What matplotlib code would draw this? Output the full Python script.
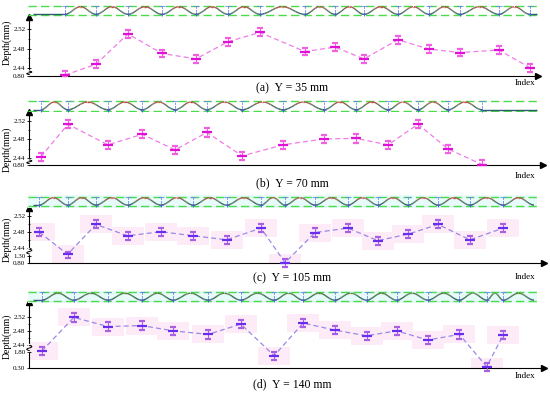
import numpy as np
import matplotlib
matplotlib.use("Agg")
import matplotlib.pyplot as plt
from matplotlib.collections import LineCollection
from matplotlib.colors import LinearSegmentedColormap
from matplotlib.ticker import FixedLocator, FuncFormatter
from matplotlib.transforms import blended_transform_factory

plt.rcParams['font.family'] = ['Liberation Serif', 'DejaVu Serif']

W, H = 550, 394

# ---------------- data ----------------
CAPTIONS = ["(a)  Y = 35 mm", "(b)  Y = 70 mm", "(c)  Y = 105 mm", "(d)  Y = 140 mm"]

# x = measuring index (position along the scan), y = depth in mm, err = error bar
IDX_A = [1.08, 2.02, 2.99, 4.02, 5.05, 6.02, 6.99, 8.35, 9.26, 10.14, 11.17, 12.11, 13.05, 14.23, 15.17]
DEPTH_A = [2.426, 2.448, 2.510, 2.470, 2.459, 2.494, 2.513, 2.474, 2.483, 2.459, 2.498, 2.479, 2.472, 2.477, 2.441]
ERR_A = [0.008, 0.008, 0.008, 0.008, 0.008, 0.008, 0.008, 0.008, 0.008, 0.008, 0.008, 0.008, 0.008, 0.008, 0.008]

IDX_B = [0.35, 1.17, 2.38, 3.42, 4.42, 5.38, 6.45, 7.69, 8.93, 9.90, 10.87, 11.78, 12.69, 13.72]
DEPTH_B = [2.442, 2.513, 2.468, 2.491, 2.457, 2.495, 2.444, 2.468, 2.481, 2.482, 2.468, 2.513, 2.459, 2.425]
ERR_B = [0.009, 0.009, 0.009, 0.009, 0.009, 0.009, 0.009, 0.009, 0.009, 0.009, 0.009, 0.009, 0.009, 0.009]

IDX_C = [0.30, 1.16, 2.02, 2.98, 3.99, 4.97, 5.98, 7.02, 7.75, 8.66, 9.65, 10.56, 11.48, 12.39, 13.35, 14.36]
DEPTH_C = [2.480, 1.55, 2.499, 2.471, 2.481, 2.471, 2.461, 2.490, 0.80, 2.479, 2.490, 2.459, 2.475, 2.499, 2.461, 2.490]
ERR_C = [0.010, 0.40, 0.010, 0.010, 0.010, 0.010, 0.010, 0.010, 0.30, 0.010, 0.010, 0.010, 0.010, 0.010, 0.010, 0.010]

IDX_D = [0.38, 1.35, 2.39, 3.41, 4.36, 5.42, 6.41, 7.42, 8.30, 9.26, 10.22, 11.13, 12.08, 13.03, 13.86, 14.36]
DEPTH_D = [1.86, 2.518, 2.492, 2.495, 2.480, 2.470, 2.499, 1.43, 2.502, 2.482, 2.466, 2.480, 2.454, 2.470, 0.40, 2.468]
ERR_D = [0.35, 0.012, 0.012, 0.012, 0.012, 0.012, 0.012, 0.37, 0.012, 0.012, 0.012, 0.012, 0.012, 0.012, 0.37, 0.012]

# broken y axis: (depth values, compressed axis positions) below 2.44
BREAK_A = ([0.80, 2.4242], [2.4241, 2.4242])
BREAK_B = ([0.80, 2.4235], [2.4234, 2.4235])
BREAK_C = ([0.80, 1.30, 2.44], [2.4043, 2.4209, 2.44])
BREAK_D = ([0.30, 1.80, 2.44], [2.3758, 2.4211, 2.44])
LOW_TICKS = [[0.80], [0.80], [0.80, 1.30], [0.30, 1.80]]
MAJOR_TICKS = [2.44, 2.48, 2.52]
MINOR_TICKS = [2.46, 2.50]
Y_TOP = [2.5444, 2.5403, 2.539, 2.5607]
# where the little break squiggle sits on the y axis (depth values)
BREAK_MARK = [(2.427, 2.434), (2.427, 2.435), (1.60, 2.32), (1.90, 2.40)]

# ---------------- layout (pixels of the 550x394 picture) ----------------
MAIN_BOX = [(29.3, 17, 538, 76), (29.3, 111.7, 543, 165.3),
            (29.3, 208.3, 544, 262.7), (29.3, 302.3, 544, 367.7)]
STRIP_LINES = [(5.7, 15.3), (101, 110.7), (196.7, 206), (292.3, 301)]
STRIP_X = [(28, 540), (28, 540), (28, 537), (28, 537)]
CAPTION_Y = [88, 183.3, 278.3, 384.3]
INDEX_Y = [83, 176, 277.3, 375.7]
YLABEL_Y = [42.5, 149, 239, 336]
PX_PER_IDX = 33.0


def px_box(left, top, right, bottom):
    return [left / W, 1 - bottom / H, (right - left) / W, (bottom - top) / H]


def break_funcs(vals, pos):
    slope = (pos[1] - pos[0]) / (vals[1] - vals[0])
    xv = [vals[0] - 50] + list(vals) + [vals[-1] + 50]
    xp = [pos[0] - 50 * slope] + list(pos) + [pos[-1] + 50]
    return (lambda v: np.interp(v, xv, xp)), (lambda p: np.interp(p, xp, xv))


def wave(troughs, start, end, tail_crest, low=0.1, high=0.9):
    xs, ys = [start], [low]
    pts = list(troughs)
    if tail_crest:
        pts = pts + [end]
    t = np.linspace(0, 1, 30)
    for a, b in zip(pts[:-1], pts[1:]):
        xs += list(a + (b - a) * t)
        ys += list(low + (high - low) * (1 - np.cos(2 * np.pi * t)) / 2)
    if not tail_crest:
        xs += [end]
        ys += [low]
    return np.array(xs), np.array(ys)


panels = [
    (IDX_A, DEPTH_A, ERR_A, BREAK_A),
    (IDX_B, DEPTH_B, ERR_B, BREAK_B),
    (IDX_C, DEPTH_C, ERR_C, BREAK_C),
    (IDX_D, DEPTH_D, ERR_D, BREAK_D),
]

wave_cmaps = [
    LinearSegmentedColormap.from_list("w1", ["#2d5d66", "#4d6e5a", "#b4473c"]),
    LinearSegmentedColormap.from_list("w2", ["#2d5d66", "#4d6e5a", "#b4473c"]),
    LinearSegmentedColormap.from_list("w3", ["#2d5d66", "#4d6e5a", "#b4473c"]),
    LinearSegmentedColormap.from_list("w4", ["#2e5a6a", "#3c6b48", "#4e7a3c"]),
]

fig = plt.figure(figsize=(5.5, 3.94), dpi=100)

for i, (xi, yi, ei, brk) in enumerate(panels):
    left, top, right, bottom = MAIN_BOX[i]
    ax = fig.add_axes(px_box(left, top, right, bottom))
    fwd, inv = break_funcs(*brk)
    ax.set_yscale('function', functions=(fwd, inv))
    ax.set_xlim(0, (right - left) / PX_PER_IDX)
    ax.set_ylim(LOW_TICKS[i][0], Y_TOP[i])

    if i < 2:
        mcol, ecol, lcol = "#e010d8", "#f060e0", "#f07ce6"
    else:
        mcol, ecol, lcol = "#6a2cf0", "#a860e0", "#9a88e6"
        # light pink boxes behind each measurement
        box = [(-1, -0.55), (1, -0.55), (1, 0.55), (-1, 0.55)]
        ax.scatter(xi, yi, marker=box, s=560, color="#fdecf7", lw=0, zorder=1)

    ax.plot(xi, yi, ls=(0, (4, 2.5)), color=lcol, lw=0.9, zorder=2)
    ax.errorbar(xi, yi, yerr=ei, fmt='_', color=mcol, ecolor=ecol, ms=7, mew=1.6,
                elinewidth=0.8, capsize=2.5, capthick=0.8, zorder=3, clip_on=False)

    for s in ['top', 'right']:
        ax.spines[s].set_visible(False)
    for s in ['left', 'bottom']:
        ax.spines[s].set_linewidth(0.8)
    ax.set_xticks([])
    ax.yaxis.set_major_locator(FixedLocator(LOW_TICKS[i] + MAJOR_TICKS))
    ax.yaxis.set_minor_locator(FixedLocator(MINOR_TICKS))
    ax.yaxis.set_major_formatter(FuncFormatter(lambda v, p: "%.2f" % v))
    ax.tick_params(axis='y', which='major', direction='inout', length=3.5, width=0.6,
                   labelsize=5, pad=1)
    ax.tick_params(axis='y', which='minor', direction='inout', length=2, width=0.5)
    ax.set_facecolor('none')

    # arrows on the axes
    ax.plot([1], [0], marker='>', color='k', ms=4, transform=ax.transAxes, clip_on=False)
    ax.plot([0], [1], marker='^', color='k', ms=4, transform=ax.transAxes, clip_on=False)

    # axis break squiggle
    tr = blended_transform_factory(ax.transAxes, ax.transData)
    b0, b1 = BREAK_MARK[i]
    ax.plot([0, 0], [b0, b1], color='white', lw=1.6, transform=tr, clip_on=False, zorder=4)
    t = np.linspace(0, 1, 30)
    ax.plot(-0.005 * np.sin(2 * np.pi * t), b0 + (b1 - b0) * t, color='k', lw=0.7,
            transform=tr, clip_on=False, zorder=5)

    # wave profile strip on top
    g_top, g_bot = STRIP_LINES[i]
    sx0, sx1 = STRIP_X[i]
    pad = 1.5
    sax = fig.add_axes(px_box(sx0, g_top - pad, sx1, g_bot + pad))
    span = (g_bot - g_top)
    yl = pad / span
    sax.set_ylim(-yl, 1 + yl)
    sax.set_xlim((sx0 - left) / PX_PER_IDX, (sx1 - left) / PX_PER_IDX)
    sax.axis('off')
    if i >= 2:
        sax.add_patch(plt.Rectangle((0, 0), 1, 1, transform=sax.transAxes,
                                    color="#e8fbfb", lw=0, zorder=0))
    for gy in (0, 1):
        sax.axhline(gy, color="#4bdc4b", lw=1.0, ls=(0, (6, 3)), zorder=1)
    wx, wy = wave(xi, 0.1, (sx1 - 3 - left) / PX_PER_IDX, i >= 2)
    segs = np.stack([np.column_stack([wx[:-1], wy[:-1]]),
                     np.column_stack([wx[1:], wy[1:]])], axis=1)
    lc = LineCollection(segs, cmap=wave_cmaps[i], lw=1.0, zorder=2)
    lc.set_array((wy[:-1] + wy[1:]) / 2)
    lc.set_clim(0.1, 0.9)
    sax.add_collection(lc)
    sax.vlines(xi, 0, 1, colors="#6a84e4", lw=0.6, linestyles=(0, (2.5, 1.5)), zorder=3)
    sax.plot(xi, [1] * len(xi), '_', color="#6a84e4", ms=4, mew=0.6, zorder=3)
    sax.plot(xi, [0.1] * len(xi), '+', color="#4a5ed0", ms=3, mew=0.6, zorder=3)

    # texts
    fig.text(292 / W, 1 - CAPTION_Y[i] / H, CAPTIONS[i], ha='center', va='center', fontsize=8.5)
    fig.text(535 / W, 1 - INDEX_Y[i] / H, "Index", ha='right', va='center', fontsize=6.5)
    fig.text(7 / W, 1 - YLABEL_Y[i] / H, "Depth(mm)", rotation=90, ha='center',
             va='center', fontsize=7)

fig.savefig("out.png", dpi=100)
